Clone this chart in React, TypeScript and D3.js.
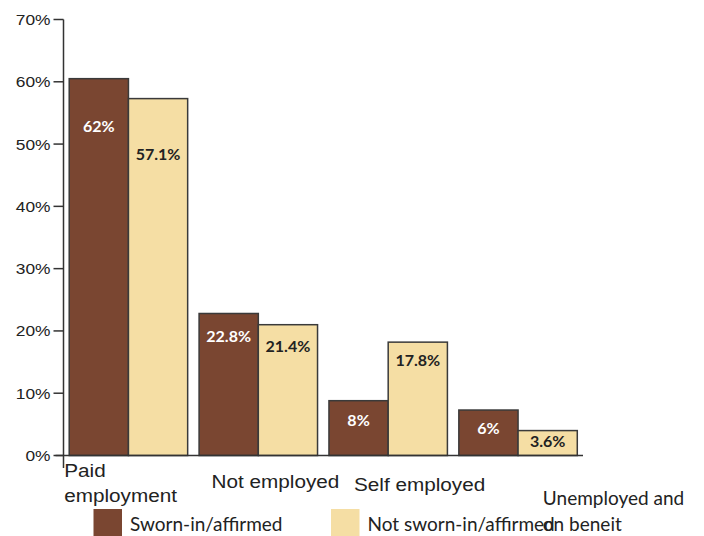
import React from "react";
import * as d3 from "d3";

const categories = ["Paid employment", "Not employed", "Self employed", "Unemployed and on beneit"];
const categoryLines = [["Paid", "employment"], ["Not employed"], ["Self employed"], ["Unemployed and", "on beneit"]];
const seriesNames = ["Sworn-in/affirmed", "Not sworn-in/affirmed"];
const swornValues = [60.5, 22.8, 8.8, 7.3];
const notSwornValues = [57.3, 21.0, 18.2, 4.0];
const swornLabels = ["62%", "22.8%", "8%", "6%"];
const notSwornLabels = ["57.1%", "21.4%", "17.8%", "3.6%"];
const swornLabelAt = [52.0, 18.2, 4.8, 3.5];
const notSwornLabelAt = [47.5, 16.6, 14.4, 1.3];
const yTicks = [0, 10, 20, 30, 40, 50, 60, 70];

const COLORS = ["#7a4631", "#f5dea4"];
const LABEL_COLORS = ["#ffffff", "#222222"];
const GILL = "'Gill Sans', Lato, 'Open Sans', sans-serif";
const HELV = "'Liberation Sans', Arial, sans-serif";

// layout of category labels (offsets from band start, font, line baselines)
const catLayout = [
  { dx: -5, y: 477, font: HELV, size: 18.5, sx: 1.12, lh: 25 },
  { dx: 12.5, y: 488, font: HELV, size: 18.5, sx: 1.12, lh: 25 },
  { dx: 25, y: 490.5, font: HELV, size: 18.5, sx: 1.12, lh: 25 },
  { dx: 84, y: 505, font: GILL, size: 19, sx: 1.0, lh: 25.5 },
];

export default function App() {
  const width = 704;
  const height = 536;
  const axisX = 63.5;
  const y = d3.scaleLinear().domain([0, 70]).range([455.5, 19.5]);
  const x = d3
    .scaleBand<string>()
    .domain(categories)
    .range([axisX, 583])
    .paddingInner(0.088)
    .paddingOuter(0.044);
  const xs = d3.scaleBand<string>().domain(seriesNames).range([0, x.bandwidth()]).padding(0);
  const series = [
    { name: seriesNames[0], values: swornValues, labels: swornLabels, at: swornLabelAt },
    { name: seriesNames[1], values: notSwornValues, labels: notSwornLabels, at: notSwornLabelAt },
  ];

  return (
    <svg
      width={width}
      height={height}
      style={{ position: "absolute", left: 0, top: 0, background: "#fff" }}
    >
      {series.map((s, si) => (
        <g key={s.name}>
          {categories.map((c, i) => {
            const bx = (x(c) ?? 0) + (xs(s.name) ?? 0);
            const by = y(s.values[i]);
            return (
              <g key={c}>
                <rect
                  x={bx}
                  y={by}
                  width={xs.bandwidth()}
                  height={y(0) - by}
                  fill={COLORS[si]}
                  stroke="#3a3a3a"
                  strokeWidth={1.5}
                />
                <text
                  x={bx + xs.bandwidth() / 2}
                  y={y(s.at[i])}
                  textAnchor="middle"
                  fontFamily={GILL}
                  fontWeight={700}
                  fontSize={16}
                  fill={LABEL_COLORS[si]}
                >
                  {s.labels[i]}
                </text>
              </g>
            );
          })}
        </g>
      ))}

      {/* y axis */}
      <line x1={axisX} x2={axisX} y1={y(70)} y2={468} stroke="#333" strokeWidth={1.5} />
      {yTicks.map((t) => (
        <g key={t}>
          <line x1={axisX - 10} x2={axisX} y1={y(t)} y2={y(t)} stroke="#333" strokeWidth={1.5} />
          <text
            transform={`translate(${axisX - 13},${y(t) + 5.5}) scale(1.12,1)`}
            textAnchor="end"
            fontFamily={HELV}
            fontSize={15.5}
            fill="#222"
          >
            {t}%
          </text>
        </g>
      ))}
      {/* x baseline */}
      <line x1={axisX - 8} x2={583} y1={y(0)} y2={y(0)} stroke="#333" strokeWidth={1.5} />

      {/* category labels */}
      {categories.map((c, i) => {
        const L = catLayout[i];
        const lx = (x(c) ?? 0) + L.dx;
        return categoryLines[i].map((line, li) => (
          <text
            key={c + li}
            transform={`translate(${lx},${L.y + li * L.lh}) scale(${L.sx},1)`}
            fontFamily={L.font}
            fontSize={L.size}
            fill="#222"
          >
            {line}
          </text>
        ));
      })}

      {/* legend */}
      {seriesNames.map((n, i) => {
        const lx = i === 0 ? 93.5 : 331;
        return (
          <g key={n}>
            <rect x={lx} y={509} width={28.5} height={28} fill={COLORS[i]} />
            <text x={lx + 36.5} y={530.5} fontFamily={GILL} fontSize={19} fill="#222">
              {n}
            </text>
          </g>
        );
      })}
    </svg>
  );
}
